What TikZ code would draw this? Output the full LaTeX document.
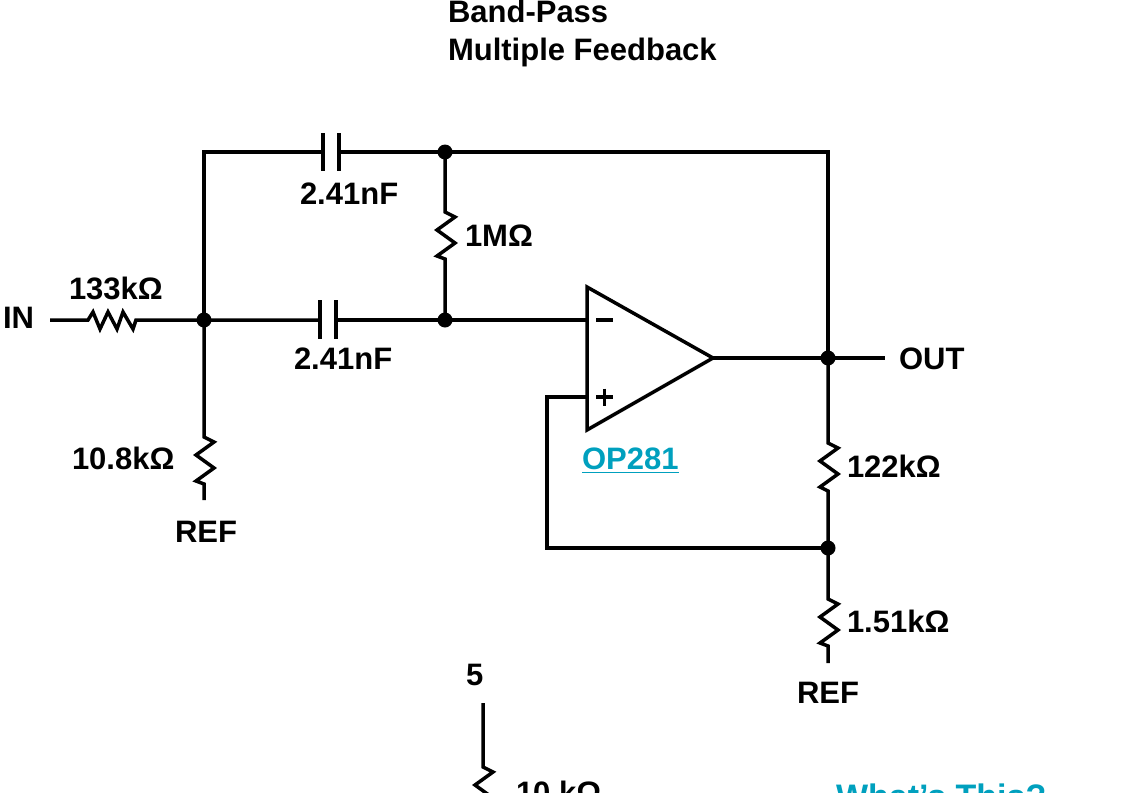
\documentclass[tikz,border=0pt]{standalone}
\usepackage{fontspec}
\setmainfont{Liberation Sans}
\definecolor{linkteal}{HTML}{00A0BE}
\tikzset{
  wire/.style={draw=black,line width=3.5pt,line join=miter,line cap=butt},
  lbl/.style={inner sep=0pt,outer sep=0pt,anchor=base west,text=black,font=\fontsize{31}{33}\selectfont\bfseries},
  link/.style={lbl,text=linkteal},
  dotj/.style={circle,fill=black,draw=none,minimum size=15pt,inner sep=0pt},
  resv/.style={to path={-- ++(10,5) -- ++(-18,13) -- ++(18,13) -- ++(-18,13) -- (\tikztotarget) \tikztonodes}},
  resh/.style={to path={-- ++(5,-8) -- ++(7,17) -- ++(8,-17) -- ++(9,17) -- ++(6,-17) -- ++(10,17) -- (\tikztotarget) \tikztonodes}},
}
\begin{document}
\begin{tikzpicture}[x=1pt,y=-1pt]
\useasboundingbox (0,0) rectangle (1134,792);
\clip (0,0) rectangle (1134,792);
% text
\node[lbl] (t1) at (448,23) {Band-Pass};
\node[lbl] (t2) at (448,60) {Multiple Feedback};
\node[lbl] (c1l) at (300,204) {2.41nF};
\node[lbl] (c2l) at (294,369) {2.41nF};
\node[lbl] (r1l) at (465,246) {1MΩ};
\node[lbl] (r2l) at (69,299) {133kΩ};
\node[lbl] (inl) at (3,328) {IN};
\node[lbl] (outl) at (899,369) {OUT};
\node[lbl] (r3l) at (72,469) {10.8kΩ};
\node[lbl] (ref1) at (175,542) {REF};
\node[lbl] (r4l) at (847,477) {122kΩ};
\node[lbl] (r5l) at (847,632) {1.51kΩ};
\node[lbl] (ref2) at (797,703) {REF};
\node[lbl] (five) at (466,685) {5};
\node[lbl] (r6l) at (516,803) {10 kΩ};
\node[link] (op) at (582,469) {OP281};
\node[link,font=\fontsize{34}{36}\selectfont\bfseries] (what) at (836,808) {What\symbol{39}s This?};
\draw[linkteal,line width=1.6pt] ([yshift=-3pt]op.south west) -- ([yshift=-3pt]op.south east);
% junctions and points
\coordinate (tl) at (204,152);
\coordinate (tr) at (828,152);
\coordinate (c1a) at (323,152);
\coordinate (c1b) at (339,152);
\coordinate (c2a) at (320,320);
\coordinate (c2b) at (336,320);
\coordinate (infree) at (50,320);
\coordinate (r2a) at (88,320);
\coordinate (r2b) at (136,320);
\coordinate (r1a) at (445,212);
\coordinate (r1b) at (445,259);
\coordinate (r3a) at (204,437);
\coordinate (r3b) at (204,484);
\coordinate (r3e) at (204,500);
\coordinate (r4a) at (828,443);
\coordinate (r4b) at (828,491);
\coordinate (r5a) at (828,599);
\coordinate (r5b) at (828,646);
\coordinate (r5e) at (828,663);
\coordinate (outfree) at (885,358);
\coordinate (oa) at (587,287);
\coordinate (ob) at (587,430);
\coordinate (oc) at (713,358);
\coordinate (om) at (587,320);
\coordinate (op2) at (587,397);
\coordinate (fb1) at (547,397);
\coordinate (fb2) at (547,548);
\coordinate (r6t) at (483,703);
\coordinate (r6a) at (483,767);
\coordinate (r6b) at (483,814);
\node[dotj] (jtop) at (445,152) {};
\node[dotj] (jin) at (204,320) {};
\node[dotj] (jinv) at (445,320) {};
\node[dotj] (jout) at (828,358) {};
\node[dotj] (jfb) at (828,548) {};
% wires
\draw[wire] (jin.center) -- (tl) -- (c1a);
\draw[wire] (c1b) -- (jtop.center) -- (tr) -- (jout.center);
\draw[wire] (323,133) -- (323,171);
\draw[wire] (339,133) -- (339,171);
\draw[wire] (infree) -- (r2a) to[resh] (r2b) -- (jin.center) -- (c2a);
\draw[wire] (320,300) -- (320,339);
\draw[wire] (336,300) -- (336,339);
\draw[wire] (c2b) -- (jinv.center) -- (om);
\draw[wire] (jtop.center) -- (r1a) to[resv] (r1b) -- (jinv.center);
\draw[wire] (jin.center) -- (r3a) to[resv] (r3b) -- (r3e);
\draw[wire] (oa) -- (oc) -- (ob) -- cycle;
\draw[wire] (oc) -- (jout.center) -- (outfree);
\draw[wire] (jout.center) -- (r4a) to[resv] (r4b) -- (jfb.center) -- (r5a) to[resv] (r5b) -- (r5e);
\draw[wire] (op2) -- (fb1) -- (fb2) -- (jfb.center);
\draw[wire] (r6t) -- (r6a) to[resv] (r6b);
% input signs
\draw[wire] (596,320) -- (613,320);
\draw[wire] (596,397) -- (613,397);
\draw[wire] (604.5,388.5) -- (604.5,405.5);
\end{tikzpicture}
\end{document}
